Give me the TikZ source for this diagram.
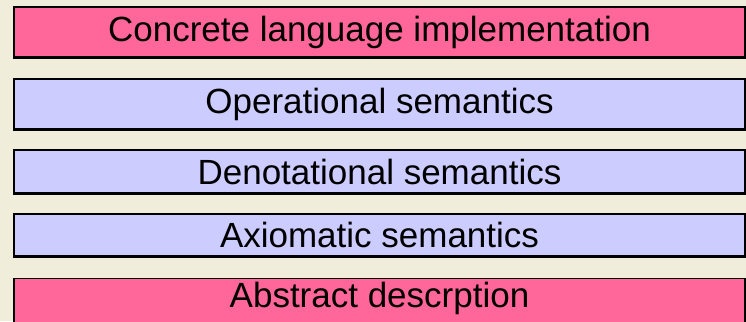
\documentclass[tikz,border=0pt]{standalone}
\usepackage{fontspec}
\setmainfont{Liberation Sans}
\definecolor{bgcream}{HTML}{F0EEDB}
\definecolor{boxpink}{HTML}{FF6699}
\definecolor{boxlav}{HTML}{CCCCFF}
\begin{document}
\begin{tikzpicture}[x=1pt,y=1pt,
  layerbox/.style={draw=black, line width=1.1pt, inner sep=0pt, minimum width=731pt,
    font=\fontsize{35}{40}\selectfont, text=black},
  pinkbox/.style={layerbox, fill=boxpink},
  lavbox/.style={layerbox, fill=boxlav},
  shadowline/.style={draw=black, line width=1.1pt}
]
\fill[bgcream] (0,0) rectangle (746,321);
\useasboundingbox (0,0) rectangle (746,321);
\clip (0,0) rectangle (746,321);

\node[pinkbox, minimum height=50pt] (conc) at (379.5,289) {Concrete language implementation};
\node[lavbox, minimum height=50pt] (oper) at (379.5,217) {Operational semantics};
\node[lavbox, minimum height=43pt] (deno) at (379.5,149.5) {Denotational semantics};
\node[lavbox, minimum height=42pt] (axio) at (379.5,86) {Axiomatic semantics};
\node[pinkbox, minimum height=54pt, anchor=north] (abst) at (379.5,43) {};
\node[font=\fontsize{35}{40}\selectfont, inner sep=0pt] (abstxt) at (379.5,22.5) {Abstract descrption};

\foreach \b in {conc,oper,deno,axio}{
  \draw[shadowline] ([yshift=-0.9pt]\b.south west) -- ([yshift=-0.9pt]\b.south east);
}
\end{tikzpicture}
\end{document}
